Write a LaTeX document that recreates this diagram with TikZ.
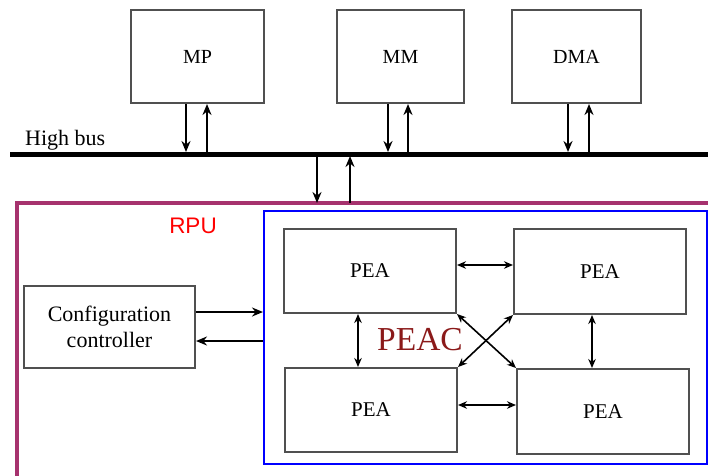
\documentclass[tikz,border=0pt]{standalone}
\usepackage{fontspec}
\setmainfont{Liberation Serif}
\newfontfamily\labelsans{Liberation Sans}
\usetikzlibrary{arrows.meta,calc}
\definecolor{rpuframe}{HTML}{A6326E}
\definecolor{peacred}{HTML}{8B1A1A}
\definecolor{boxgray}{HTML}{505050}
\tikzset{
  unit/.style={draw=boxgray, line width=2pt, inner sep=0pt, anchor=north west, font=\fontsize{20}{24}\selectfont},
  arr/.style={line width=2pt, -{Stealth[length=11pt,width=9pt]}},
  darr/.style={line width=1.6pt, {Stealth[length=9pt,width=7.5pt]}-{Stealth[length=9pt,width=7.5pt]}},
}
\begin{document}
\begin{tikzpicture}[x=1pt,y=-1pt]
\useasboundingbox (0,0) rectangle (708,475);

% memory-side units
\node[unit, minimum width=133pt, minimum height=93pt] (mp) at (130,9) {MP};
\node[unit, minimum width=127pt, minimum height=93pt] (mm) at (336,9) {MM};
\node[unit, minimum width=129pt, minimum height=93pt] (dma) at (511,9) {DMA};

% high bus
\coordinate (busL) at (10,154);
\coordinate (busR) at (708,154);
\draw[line width=5pt] (busL) -- (busR);
\node[anchor=base west, font=\fontsize{22}{26}\selectfont, inner sep=0pt] (buslabel) at (25,145) {High bus};

% unit <-> bus links
\foreach \n/\xd/\xu in {mp/186/207, mm/388/408, dma/568/589}{
  \draw[arr] (\n.south -| \xd,0) -- (\xd,152);
  \draw[arr] (\xu,152) -- (\n.south -| \xu,0);
}

% RPU frame
\coordinate (rpuNW) at (17,203);
\coordinate (rpuSE) at (730,500);
\draw[rpuframe, line width=3.5pt] (rpuNW) rectangle (rpuSE);
\node[text=red, font=\labelsans\fontsize{22.5}{26}\selectfont, inner sep=0pt] (rpulabel) at (193,226) {RPU};

% bus <-> RPU links
\draw[arr] (317,156) -- (rpuNW -| 317,0);
\draw[arr] (rpuNW -| 350,0) -- (350,156);

% PE array container
\node[draw=blue, line width=2.2pt, anchor=north west, minimum width=443pt, minimum height=253pt, inner sep=0pt] (peac) at (263,210) {};
\node[text=peacred, font=\fontsize{33.5}{38}\selectfont, inner sep=0pt] (peaclabel) at (420,340) {PEAC};

% processing element arrays
\node[unit, minimum width=172pt, minimum height=84pt, font=\fontsize{21}{24}\selectfont] (pea1) at (283,228) {PEA};
\node[unit, minimum width=172pt, minimum height=85pt, font=\fontsize{21}{24}\selectfont] (pea2) at (513,228) {PEA};
\node[unit, minimum width=172pt, minimum height=84pt, font=\fontsize{21}{24}\selectfont] (pea3) at (284,367) {PEA};
\node[unit, minimum width=172pt, minimum height=85pt, font=\fontsize{21}{24}\selectfont] (pea4) at (516,368) {PEA};

\draw[darr] (pea1.east |- 0,265) -- (pea2.west |- 0,265);
\draw[darr] (pea3.east |- 0,405) -- (pea4.west |- 0,405);
\draw[darr] (pea1.south -| 358,0) -- (pea3.north -| 358,0);
\draw[darr] (pea2.south -| 592,0) -- (pea4.north -| 592,0);
\draw[darr] (pea1.south east) -- (pea4.north west);
\draw[darr] (pea3.north east) -- (pea2.south west);

% configuration controller
\node[unit, minimum width=171pt, minimum height=82pt, align=center, font=\fontsize{22}{26}\selectfont] (cfg) at (23,285) {Configuration\\controller};
\draw[arr] (cfg.east |- 0,312) -- (peac.west |- 0,312);
\draw[arr] (peac.west |- 0,341) -- (cfg.east |- 0,341);
\end{tikzpicture}
\end{document}
